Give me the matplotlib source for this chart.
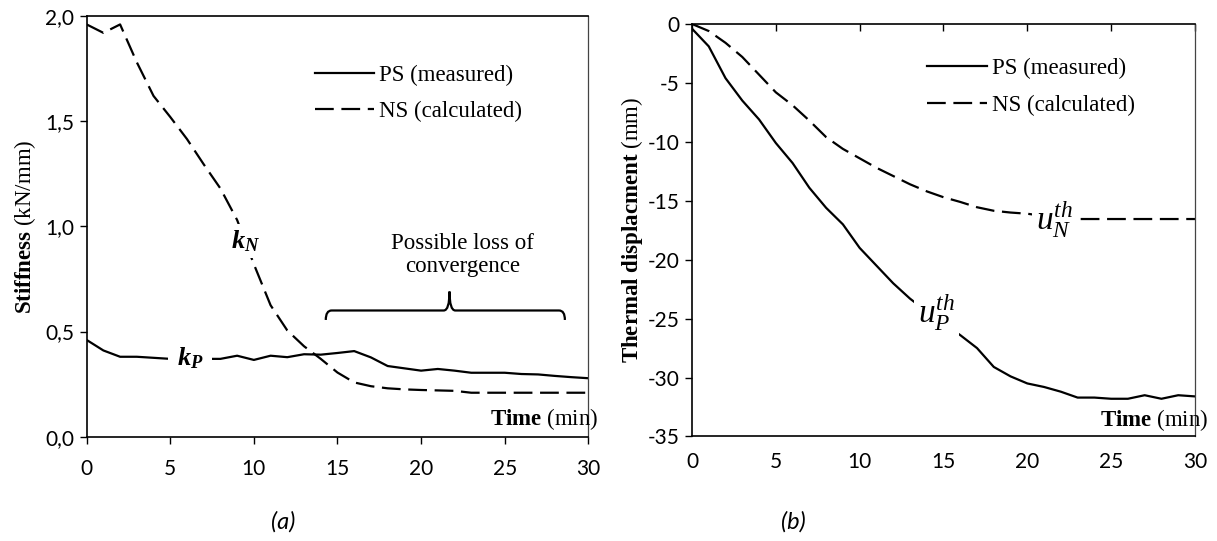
import matplotlib
matplotlib.use("Agg")
import matplotlib.pyplot as plt
from matplotlib.path import Path
from matplotlib.patches import PathPatch

plt.rcParams['mathtext.fontset'] = 'custom'
plt.rcParams['mathtext.rm'] = 'Liberation Serif'
plt.rcParams['mathtext.it'] = 'Liberation Serif:italic'
plt.rcParams['mathtext.bf'] = 'Liberation Serif:bold'
plt.rcParams['mathtext.bfit'] = 'Liberation Serif:bold:italic'
plt.rcParams['lines.scale_dashes'] = False
plt.rcParams['axes.unicode_minus'] = False

# time (min)
time = list(range(31))

# (a) stiffness, kN/mm
ps_stiffness = [0.46, 0.41, 0.38, 0.38, 0.375, 0.37, 0.37, 0.37, 0.37, 0.385,
                0.365, 0.385, 0.378, 0.392, 0.39, 0.398, 0.407, 0.377, 0.336, 0.325,
                0.314, 0.322, 0.314, 0.304, 0.304, 0.304, 0.298, 0.296, 0.289, 0.283,
                0.278]
ns_stiffness = [1.96, 1.92, 1.96, 1.78, 1.62, 1.52, 1.415, 1.295, 1.18, 1.03,
                0.82, 0.625, 0.505, 0.43, 0.37, 0.305, 0.258, 0.24, 0.23, 0.225,
                0.222, 0.22, 0.218, 0.209, 0.209, 0.209, 0.209, 0.209, 0.209, 0.209,
                0.209]

# (b) thermal displacement, mm
ps_disp = [-0.4, -1.9, -4.6, -6.5, -8.1, -10.1, -11.8, -13.9, -15.6, -17.0,
           -19.0, -20.5, -22.0, -23.3, -24.4, -25.4, -26.4, -27.5, -29.1, -29.9,
           -30.5, -30.8, -31.2, -31.7, -31.7, -31.8, -31.8, -31.5, -31.8, -31.5,
           -31.6]
ns_disp = [0.0, -0.6, -1.6, -2.8, -4.3, -5.8, -6.9, -8.2, -9.6, -10.6,
           -11.4, -12.2, -12.9, -13.6, -14.2, -14.7, -15.1, -15.55, -15.85, -16.0,
           -16.1, -16.3, -16.5, -16.55, -16.55, -16.55, -16.55, -16.55, -16.55, -16.55,
           -16.55]

x_ticks = [0, 5, 10, 15, 20, 25, 30]
stiff_ticks = [0.0, 0.5, 1.0, 1.5, 2.0]
stiff_ticklabels = ['0,0', '0,5', '1,0', '1,5', '2,0']
disp_ticks = [0, -5, -10, -15, -20, -25, -30, -35]
labels = ['PS (measured)', 'NS (calculated)']

serif = 'Liberation Serif'
sans = 'Lato'
LW = 1.6
DASH = (13.5, 5.5)
FS = 16.5

fig = plt.figure(figsize=(12.17, 5.41), dpi=100)
ax1 = fig.add_axes([0.0712, 0.1928, 0.4122, 0.7776])
ax2 = fig.add_axes([0.5686, 0.1932, 0.4133, 0.7625])

for ax in (ax1, ax2):
    for s in ('left', 'top', 'bottom'):
        ax.spines[s].set_color('black')
        ax.spines[s].set_linewidth(1.2)
    ax.spines['right'].set_color('#444444')
    ax.spines['right'].set_linewidth(0.9)
    ax.set_xlim(0, 30)
    ax.set_xticks(x_ticks)
    ax.tick_params(labelsize=15, length=5, width=1, pad=11)

# ---- (a) stiffness
ax1.plot(time, ps_stiffness, color='black', lw=LW, label=labels[0])
ax1.plot(time, ns_stiffness, color='black', lw=LW, dashes=DASH, label=labels[1])
ax1.set_ylim(0, 2.0)
ax1.set_yticks(stiff_ticks)
ax1.set_yticklabels(stiff_ticklabels)
ax1.tick_params(axis='y', pad=4)
ax1.set_ylabel(r'$\mathbf{Stiffness}$ (kN/mm)', fontfamily=serif, fontsize=FS, labelpad=5)
ax1.legend(loc='upper left', bbox_to_anchor=(0.455, 0.885), frameon=False,
           prop={'family': serif, 'size': FS}, handlelength=2.6,
           handletextpad=0.2, labelspacing=0.67, borderpad=0, borderaxespad=0)

box = dict(facecolor='white', edgecolor='none', pad=3)
ax1.text(9.5, 0.93, r'$\mathbfit{k}_{\mathbfit{N}}$', fontsize=19, ha='center', va='center', bbox=box)
ax1.text(6.2, 0.37, r'$\mathbfit{k}_{\mathbfit{P}}$', fontsize=19, ha='center', va='center',
         bbox=dict(facecolor='white', edgecolor='none', pad=6))
ax1.text(22.5, 0.865, 'Possible loss of\nconvergence', fontfamily=serif, fontsize=FS,
         ha='center', va='center', linespacing=1.1)
ax1.text(30.6, 0.085, r'$\mathbf{Time}$ (min)', fontfamily=serif, fontsize=FS,
         ha='right', va='center', clip_on=False)

# curly brace over the late part of the test
bx0, bx1, by, tip_x, tip_h, end_h, r = 14.3, 28.6, 0.6, 21.7, 0.09, 0.045, 0.35
verts = [(bx0, by - end_h), (bx0, by), (bx0 + r, by),
         (tip_x - r, by),
         (tip_x, by), (tip_x, by + tip_h),
         (tip_x, by), (tip_x + r, by),
         (bx1 - r, by),
         (bx1, by), (bx1, by - end_h)]
codes = [Path.MOVETO, Path.CURVE3, Path.CURVE3,
         Path.LINETO,
         Path.CURVE3, Path.CURVE3,
         Path.CURVE3, Path.CURVE3,
         Path.LINETO,
         Path.CURVE3, Path.CURVE3]
ax1.add_patch(PathPatch(Path(verts, codes), facecolor='none', edgecolor='black', lw=1.6))

# ---- (b) thermal displacement
ax2.plot(time, ps_disp, color='black', lw=LW, label=labels[0])
ax2.plot(time, ns_disp, color='black', lw=LW, dashes=DASH, label=labels[1])
ax2.set_ylim(-35, 0)
ax2.set_yticks(disp_ticks)
ax2.tick_params(axis='y', pad=4)
ax2.tick_params(axis='x', top=True, bottom=False, labeltop=False, labelbottom=True,
                direction='in')
ax2.set_ylabel(r'$\mathbf{Thermal\ displacment}$ (mm)', fontfamily=serif, fontsize=FS, labelpad=2)
ax2.legend(loc='upper left', bbox_to_anchor=(0.468, 0.917), frameon=False,
           prop={'family': serif, 'size': FS}, handlelength=2.6,
           handletextpad=0.2, labelspacing=0.67, borderpad=0, borderaxespad=0)
ax2.text(14.6, -24.5, r'$u_P^{th}$', fontsize=24, ha='center', va='center', bbox=box)
ax2.text(21.6, -16.6, r'$u_N^{th}$', fontsize=24, ha='center', va='center', bbox=box)
ax2.text(30.8, -33.6, r'$\mathbf{Time}$ (min)', fontfamily=serif, fontsize=FS,
         ha='right', va='center', clip_on=False)

for ax in (ax1, ax2):
    for lab in ax.get_xticklabels() + ax.get_yticklabels():
        lab.set_fontfamily(sans)

fig.text(283 / 1217, 0.035, '(a)', fontfamily=sans, style='italic', fontsize=17, ha='center', va='center')
fig.text(793 / 1217, 0.035, '(b)', fontfamily=sans, style='italic', fontsize=17, ha='center', va='center')

fig.savefig('out.png', dpi=100)
